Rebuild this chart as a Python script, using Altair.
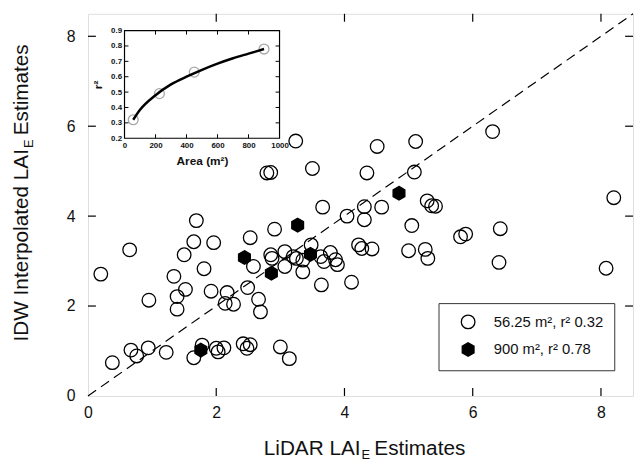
import altair as alt
import pandas as pd

FONT = "Liberation Sans"

# ---- main scatter data (LiDAR LAI_E vs IDW interpolated LAI_E) ----
open_x = [3.24, 4.51, 2.79, 2.85, 3.50, 4.35, 3.66, 4.04, 4.31, 4.58,
          4.31, 1.69, 2.91, 1.65, 1.96, 2.53, 0.65, 3.48, 4.22, 4.27,
          4.43, 2.85, 2.87, 3.07, 3.20, 3.25, 3.35, 3.63, 3.68, 3.78,
          3.86, 3.89, 3.07, 2.58, 3.35, 1.50, 1.81, 1.34, 0.20, 3.64,
          4.11, 0.95, 1.39, 1.39, 1.52, 1.92, 2.17, 2.14, 2.27, 2.49,
          2.66, 2.69, 0.38, 0.67, 0.76, 0.94, 1.22, 1.78, 1.65, 2.00,
          2.03, 2.12, 2.42, 2.48, 2.53, 3.00, 3.14, 6.31, 5.11, 5.09,
          5.29, 5.36, 5.42, 5.05, 8.20, 5.00, 5.26, 5.30, 5.81, 5.89,
          6.43, 6.41, 8.08]
open_y = [5.67, 5.55, 4.96, 4.97, 5.06, 4.96, 4.20, 4.00, 4.21, 4.20,
          3.92, 3.90, 3.71, 3.43, 3.41, 3.52, 3.25, 3.36, 3.36, 3.28,
          3.27, 3.14, 3.06, 3.21, 3.10, 3.06, 3.02, 3.10, 2.99, 3.19,
          3.03, 2.92, 2.88, 2.88, 2.76, 3.14, 2.83, 2.66, 2.71, 2.47,
          2.53, 2.13, 2.21, 1.93, 2.37, 2.33, 2.30, 2.06, 2.04, 2.41,
          2.15, 1.87, 0.74, 1.02, 0.89, 1.07, 0.97, 1.13, 0.85, 1.06,
          0.98, 1.07, 1.16, 1.06, 1.14, 1.09, 0.83, 5.88, 5.66, 4.98,
          4.34, 4.23, 4.22, 3.79, 4.41, 3.23, 3.26, 3.06, 3.54, 3.60,
          3.72, 2.97, 2.84]
hex_x = [1.76, 2.44, 2.86, 3.27, 3.47, 4.85]
hex_y = [1.02, 3.08, 2.73, 3.80, 3.15, 4.51]
series_labels = ["56.25 m\u00b2, r\u00b2 0.32", "900 m\u00b2, r\u00b2 0.78"]

one_to_one = [0, 8.5]
main_ticks = [2, 4, 6, 8]
main_labels = [0, 2, 4, 6, 8]

# ---- inset data (r^2 vs plot area) ----
inset_area = [56.25, 225, 450, 900]
inset_r2 = [0.32, 0.49, 0.63, 0.78]
curve_area = [56, 100, 200, 300, 400, 500, 600, 700, 800, 900]
curve_r2 = [0.32, 0.385, 0.48, 0.55, 0.60, 0.645, 0.685, 0.72, 0.75, 0.78]
inset_xlabels = [0, 200, 400, 600, 800, 1000]
inset_ylabels = [0.2, 0.3, 0.4, 0.5, 0.6, 0.7, 0.8, 0.9]
inset_xticks = [200, 400, 600, 800]
inset_yticks = [0.3, 0.4, 0.5, 0.6, 0.7, 0.8]

# ---- titles ----
x_title = ["LiDAR LAI", "E", "Estimates"]
y_title = ["IDW Interpolated LAI", "E", "Estimates"]

W, H = 552, 387
HEX = "M0,-1L0.866,-0.5L0.866,0.5L0,1L-0.866,0.5L-0.866,-0.5Z"

xs = alt.Scale(domain=[0, 8.5], nice=False, zero=False)
ys = alt.Scale(domain=[0, 8.5], nice=False, zero=False)

AX_X = alt.Axis(values=main_labels, format="d", ticks=False, domain=False, grid=False,
                labelPadding=9, labelFontSize=16, labelFont=FONT, labelColor="#111",
                labelFlush=False, title=None)
AX_Y = alt.Axis(values=main_labels, format="d", ticks=False, domain=False, grid=False,
                labelPadding=13, labelFontSize=16, labelFont=FONT, labelColor="#111",
                labelFlush=False, title=None)

pts = pd.DataFrame({
    "x": open_x + hex_x,
    "y": open_y + hex_y,
    "series": [series_labels[0]] * len(open_x) + [series_labels[1]] * len(hex_x),
})

leg = alt.Legend(title=None, orient="none", legendX=355, legendY=293,
                 padding=11, rowPadding=8, labelOffset=18, labelFontSize=15,
                 labelFont=FONT, labelColor="#111", strokeColor="#333",
                 fillColor="white", symbolOffset=11,
                 symbolStrokeWidth=1.3, symbolSize=190)

points = alt.Chart(pts).mark_point(filled=False, strokeWidth=1.3,
                                   opacity=1, size=190).encode(
    x=alt.X("x:Q", scale=xs, axis=AX_X),
    y=alt.Y("y:Q", scale=ys, axis=AX_Y),
    shape=alt.Shape("series:N", scale=alt.Scale(domain=series_labels, range=["circle", HEX]),
                    legend=leg),
    fill=alt.Fill("series:N", scale=alt.Scale(domain=series_labels,
                                              range=["transparent", "black"]),
                  legend=leg),
    stroke=alt.Stroke("series:N", scale=alt.Scale(domain=series_labels,
                                                  range=["black", "black"]),
                      legend=leg),
)

diag = alt.Chart(pd.DataFrame({"x": one_to_one, "y": one_to_one})).mark_line(
    color="black", strokeWidth=1.2, strokeDash=[10, 6]).encode(
    x=alt.X("x:Q", scale=xs, axis=AX_X), y=alt.Y("y:Q", scale=ys, axis=AX_Y))

tdf = pd.DataFrame({"v": main_ticks})
tick_bottom = alt.Chart(tdf).mark_rule(color="black", strokeWidth=1.2).encode(
    x=alt.X("v:Q", scale=xs, axis=AX_X), y=alt.value(H), y2=alt.value(H - 8))
tick_top = alt.Chart(tdf).mark_rule(color="black", strokeWidth=1.2).encode(
    x=alt.X("v:Q", scale=xs, axis=AX_X), y=alt.value(0), y2=alt.value(8))
tick_left = alt.Chart(tdf).mark_rule(color="black", strokeWidth=1.2).encode(
    y=alt.Y("v:Q", scale=ys, axis=AX_Y), x=alt.value(0), x2=alt.value(8))
tick_right = alt.Chart(tdf).mark_rule(color="black", strokeWidth=1.2).encode(
    y=alt.Y("v:Q", scale=ys, axis=AX_Y), x=alt.value(W), x2=alt.value(W - 8))

def txt(s, size, x, y, align, angle=0):
    return alt.Chart(pd.DataFrame({"t": [s]})).mark_text(
        font=FONT, fontSize=size, align=align, baseline="alphabetic",
        angle=angle, color="#111").encode(text="t:N", x=alt.value(x), y=alt.value(y))

xt1 = txt(x_title[0], 21, 276, 447, "right")
xt2 = txt(x_title[1], 13, 277, 451, "left")
xt3 = txt(x_title[2], 21, 290, 447, "left")
yt1 = txt(y_title[0], 21, -61, 137, "right", 270)
yt2 = txt(y_title[1], 13, -56, 136, "left", 270)
yt3 = txt(y_title[2], 21, -61, 123, "left", 270)

main = alt.layer(diag, points, tick_bottom, tick_top, tick_left, tick_right,
                 xt1, xt2, xt3, yt1, yt2, yt3)

# ---- inset ----
IX0, IX1, IY0, IY1 = 37, 194, 126, 17
ixs = alt.Scale(domain=[0, 1000], range=[IX0, IX1], nice=False, zero=False)
iys = alt.Scale(domain=[0.2, 0.9], range=[IY0, IY1], nice=False, zero=False)

AX_IX = alt.Axis(orient="bottom", offset=-(H - IY0), values=inset_xlabels,
                 format="d", ticks=False, domain=False, grid=False,
                 labelPadding=3, labelFontSize=8, labelFontWeight="bold",
                 labelFont=FONT, labelColor="#111", labelFlush=False,
                 title="Area (m\u00b2)", titleFontSize=12, titleFontWeight="bold",
                 titleFont=FONT, titleColor="#111", titlePadding=7)
AX_IY = alt.Axis(orient="left", offset=-IX0, values=inset_ylabels,
                 format=".1f", ticks=False, domain=False, grid=False,
                 labelPadding=3, labelFontSize=8, labelFontWeight="bold",
                 labelFont=FONT, labelColor="#111", labelFlush=False,
                 title="r\u00b2", titleFontSize=12, titleFontWeight="bold",
                 titleFont=FONT, titleColor="#111", titlePadding=6)

frame = alt.Chart(pd.DataFrame({"a": [0]})).mark_rect(
    fill="white", stroke="black", strokeWidth=1.2).encode(
    x=alt.value(IX0), x2=alt.value(IX1), y=alt.value(IY1), y2=alt.value(IY0))

ipts = alt.Chart(pd.DataFrame({"area": inset_area, "r2": inset_r2})).mark_point(
    stroke="#a8a8a8", strokeWidth=1.3, size=100, opacity=1, filled=False).encode(
    x=alt.X("area:Q", scale=ixs, axis=AX_IX),
    y=alt.Y("r2:Q", scale=iys, axis=AX_IY),
)

icurve = alt.Chart(pd.DataFrame({"area": curve_area, "r2": curve_r2})).mark_line(
    color="black", strokeWidth=2.5, interpolate="monotone").encode(
    x=alt.X("area:Q", scale=ixs, axis=AX_IX), y=alt.Y("r2:Q", scale=iys, axis=AX_IY))

ixt = pd.DataFrame({"v": inset_xticks})
iyt = pd.DataFrame({"v": inset_yticks})
it_b = alt.Chart(ixt).mark_rule(color="black").encode(
    x=alt.X("v:Q", scale=ixs, axis=AX_IX), y=alt.value(IY0), y2=alt.value(IY0 - 4))
it_t = alt.Chart(ixt).mark_rule(color="black").encode(
    x=alt.X("v:Q", scale=ixs, axis=AX_IX), y=alt.value(IY1), y2=alt.value(IY1 + 4))
it_l = alt.Chart(iyt).mark_rule(color="black").encode(
    y=alt.Y("v:Q", scale=iys, axis=AX_IY), x=alt.value(IX0), x2=alt.value(IX0 + 4))
it_r = alt.Chart(iyt).mark_rule(color="black").encode(
    y=alt.Y("v:Q", scale=iys, axis=AX_IY), x=alt.value(IX1), x2=alt.value(IX1 - 4))

inset = alt.layer(frame, ipts, icurve, it_b, it_t, it_l, it_r)

chart = alt.layer(main, inset).resolve_scale(
    x="independent", y="independent"
).properties(
    width=W, height=H,
    padding={"left": 81, "top": 3, "right": 2, "bottom": 63},
    autosize=alt.AutoSizeParams(type="none"),
).configure_view(stroke="black", strokeWidth=1.2).configure(font=FONT)

chart.save("out.html", embed_options={"renderer": "svg", "actions": False})
